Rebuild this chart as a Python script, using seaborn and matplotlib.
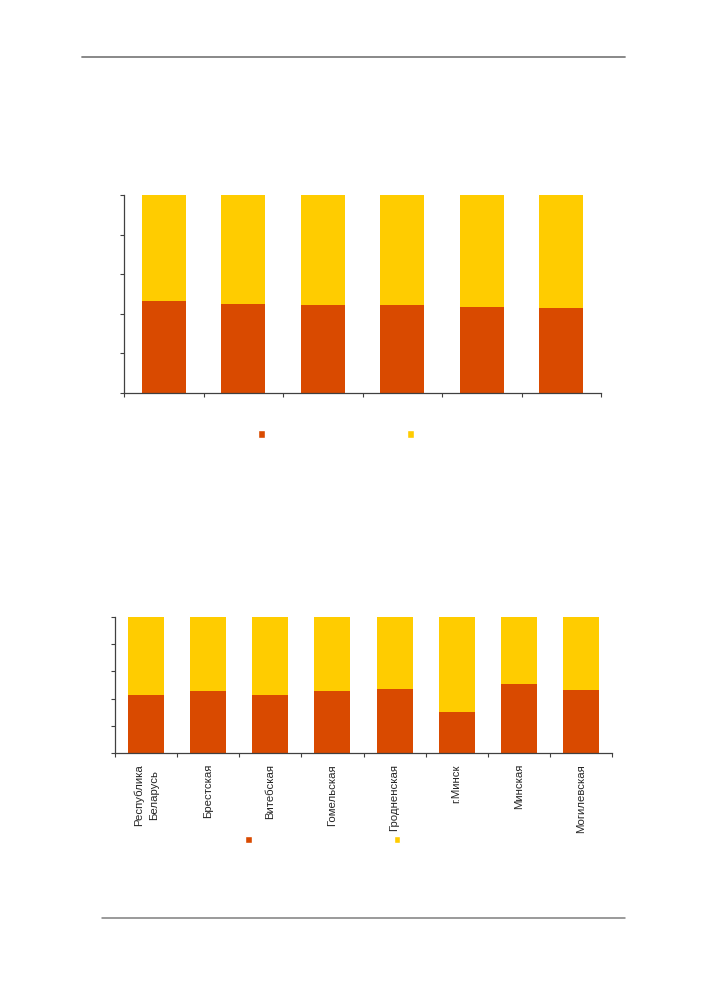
import numpy as np
import seaborn as sns
import matplotlib.pyplot as plt
from matplotlib.lines import Line2D
from matplotlib.patches import Patch

# data (shares in %, the two parts add up to 100)
top_cats = ["1", "2", "3", "4", "5", "6"]
top_red = [46.5, 45.0, 44.5, 44.3, 43.5, 42.8]
top_yellow = [53.5, 55.0, 55.5, 55.7, 56.5, 57.2]

regions = ["Республика\nБеларусь", "Брестская", "Витебская", "Гомельская",
           "Гродненская", "г.Минск", "Минская", "Могилевская"]
reg_red = [42.6, 45.8, 42.6, 45.8, 47.3, 30.3, 50.5, 46.6]
reg_yellow = [57.4, 54.2, 57.4, 54.2, 52.7, 69.7, 49.5, 53.4]

RED = "#d94a00"
YELLOW = "#ffcc00"
AXIS = "#404040"

sns.set_theme(style="ticks")
plt.rcParams["font.family"] = ["Liberation Sans", "DejaVu Sans"]

W, H = 706, 999
fig = plt.figure(figsize=(W / 100, H / 100), dpi=100)


def px_axes(left, top, right, bottom):
    return fig.add_axes([left / W, 1 - bottom / H, (right - left) / W, (bottom - top) / H])


def stacked(ax, cats, red, yellow, width):
    total = np.array(red) + np.array(yellow)
    sns.barplot(x=cats, y=total, color=YELLOW, width=width, saturation=1,
                linewidth=0, ax=ax)
    sns.barplot(x=cats, y=red, color=RED, width=width, saturation=1,
                linewidth=0, ax=ax)
    n = len(cats)
    ax.set_xlim(-0.5, n - 0.5)
    ax.set_ylim(0, 100)
    ax.set_yticks(np.arange(0, 101, 20))
    ax.set_yticklabels([])
    ax.set_xticks(np.arange(-0.5, n, 1), minor=True)
    ax.tick_params(axis="x", which="minor", length=3, width=0.8, color=AXIS)
    ax.tick_params(axis="y", length=3, width=0.8, color=AXIS)
    ax.set_xlabel("")
    ax.set_ylabel("")
    sns.despine(ax=ax)
    for s in ("left", "bottom"):
        ax.spines[s].set_color(AXIS)
        ax.spines[s].set_linewidth(0.9)


def legend_at(cx, cy):
    handles = [Patch(facecolor=RED), Patch(facecolor=YELLOW)]
    fig.legend(handles, ["", ""], loc="center", bbox_to_anchor=(cx / W, 1 - cy / H),
               ncol=2, frameon=False, fontsize=8, handlelength=0.62, handleheight=0.62,
               handletextpad=0, columnspacing=12.75, borderpad=0)


# upper chart
ax1 = px_axes(124, 195, 601, 393)
stacked(ax1, top_cats, top_red, top_yellow, 0.553)
ax1.set_xticks(range(len(top_cats)))
ax1.set_xticklabels([])
ax1.tick_params(axis="x", which="major", length=0)
legend_at(336, 435)

# lower chart
ax2 = px_axes(115, 617, 612, 753)
stacked(ax2, regions, reg_red, reg_yellow, 0.58)
ax2.set_xticks(range(len(regions)))
ax2.set_xticklabels(regions, rotation=90, fontsize=8.2, color="#262626",
                    va="top", ha="center", linespacing=1.6)
ax2.tick_params(axis="x", which="major", length=0, pad=8)
legend_at(322.7, 840.7)

# page rules
fig.add_artist(Line2D([82 / W, 625 / W], [1 - 57 / H, 1 - 57 / H], color="#7f7f7f", lw=1.3))
fig.add_artist(Line2D([102 / W, 625 / W], [1 - 918 / H, 1 - 918 / H], color="#7f7f7f", lw=1.1))

fig.savefig("out.png", dpi=100, facecolor="white")
